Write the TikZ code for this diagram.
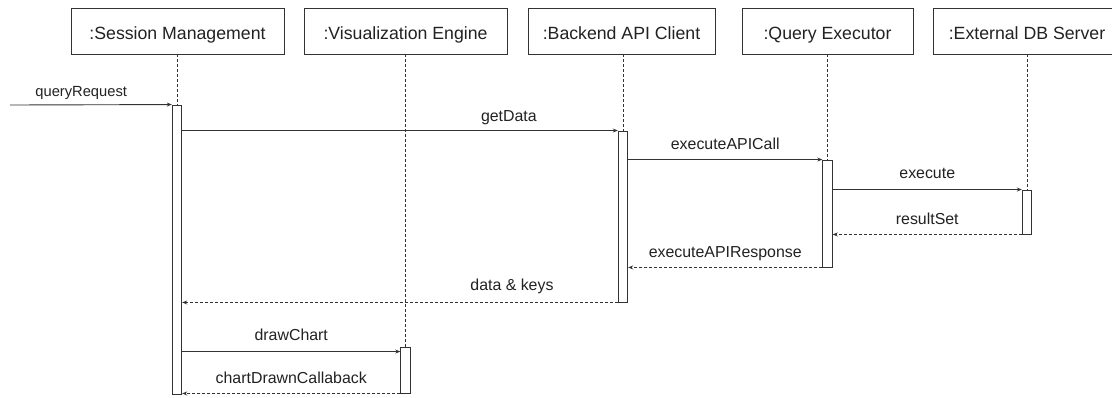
\documentclass[tikz,border=0pt]{standalone}
\usepackage{fontspec}
\setmainfont{Liberation Sans}
\usetikzlibrary{arrows.meta}
\definecolor{ln}{HTML}{333333}
\definecolor{tx}{HTML}{222222}
\tikzset{
  lifebox/.style={draw=ln, line width=0.9pt, fill=white, minimum height=46pt, inner sep=0pt,
    text height=16pt, text depth=0pt, text=tx, font=\fontsize{17.7}{20}\selectfont},
  actbar/.style={draw=ln, line width=0.9pt, fill=white, minimum width=9.5pt, inner sep=0pt},
  lifeline/.style={draw=ln, line width=0.8pt, dash pattern=on 3pt off 2pt},
  msg/.style={draw=ln, line width=0.9pt, -{Stealth[length=5pt,width=4pt]}},
  reply/.style={msg, dash pattern=on 3pt off 2pt},
  lbl/.style={anchor=base, yshift=10pt, text=tx, inner sep=0pt, font=\fontsize{15.9}{18}\selectfont}
}
\begin{document}
\begin{tikzpicture}[x=1pt,y=-1pt]
\clip (0,0) rectangle (1112,397);
\fill[white] (0,0) rectangle (1112,397);
% lifeline heads
\node[lifebox, minimum width=213pt] (sm) at (177.5,31) {:Session Management};
\node[lifebox, minimum width=203pt] (ve) at (405.5,31) {:Visualization Engine};
\node[lifebox, minimum width=187pt] (bc) at (621.5,31) {:Backend API Client};
\node[lifebox, minimum width=171pt] (qe) at (827.5,31) {:Query Executor};
\node[lifebox, minimum width=188pt] (db) at (1027,31) {:External DB Server};
% activation bars positions
\coordinate (saC) at (177,249.5);
\coordinate (baC) at (623,216.5);
\coordinate (qaC) at (827.5,213.5);
\coordinate (daC) at (1027,212);
\coordinate (vaC) at (405.5,370);
% lifelines
\draw[lifeline] (sm.south) -- (sm.south |- 0,105);
\draw[lifeline] (ve.south) -- (ve.south |- 0,347);
\draw[lifeline] (baC |- bc.south) -- (baC |- 0,131);
\draw[lifeline] (qe.south) -- (qe.south |- 0,160);
\draw[lifeline] (db.south) -- (db.south |- 0,190);
% activation bars
\node[actbar, minimum height=289pt] (sa) at (saC) {};
\node[actbar, minimum height=171pt] (ba) at (baC) {};
\node[actbar, minimum height=107pt] (qa) at (qaC) {};
\node[actbar, minimum height=44pt] (da) at (daC) {};
\node[actbar, minimum height=46pt] (va) at (vaC) {};
% messages
\coordinate (start) at (10,105);
\coordinate (dc) at ([yshift=-5pt]va.north west);
\draw[msg] (start) -- (sa.north west) node[lbl, pos=0.44, yshift=-1.5pt, font=\fontsize{14.7}{17}\selectfont] {queryRequest};
\draw[msg] (sa.east |- ba.north) -- (ba.north west) node[lbl, pos=0.75, yshift=-1pt] {getData};
\draw[msg] (ba.east |- qa.north) -- (qa.north west) node[lbl, midway] {executeAPICall};
\draw[msg] (qa.east |- da.north) -- (da.north west) node[lbl, midway, yshift=1.5pt] {execute};
\draw[reply] (da.south west) -- (qa.east |- da.south) node[lbl, midway] {resultSet};
\draw[reply] (qa.south west) -- (ba.east |- qa.south) node[lbl, midway] {executeAPIResponse};
\draw[reply] (ba.south west) -- (sa.east |- ba.south) node[lbl, pos=0.243, yshift=1.5pt] {data \& keys};
\draw[msg] (sa.east |- dc) -- (dc) node[lbl, midway, yshift=1.5pt] {drawChart};
\draw[reply] (va.south west) -- (sa.east |- va.south) node[lbl, midway] {chartDrawnCallaback};
\end{tikzpicture}
\end{document}
